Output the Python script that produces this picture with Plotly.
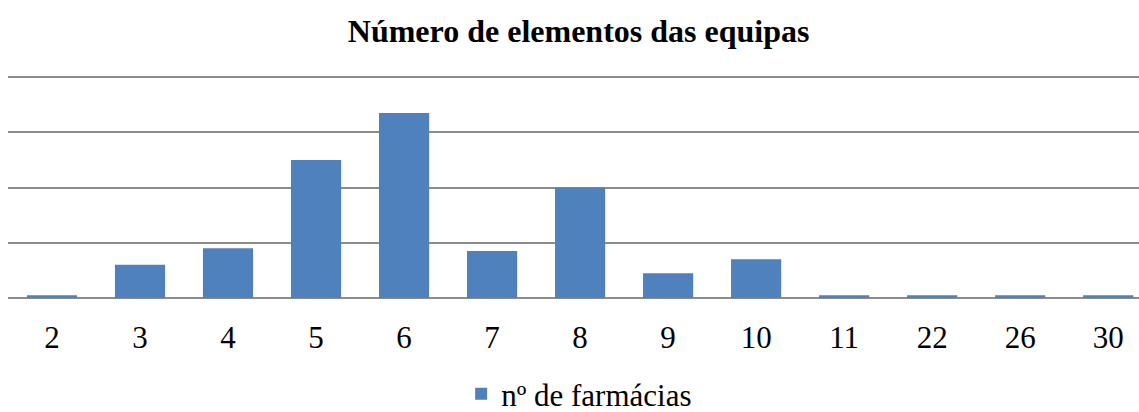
import plotly.graph_objects as go

categories = ["2", "3", "4", "5", "6", "7", "8", "9", "10", "11", "22", "26", "30"]
farmacias = [1, 12, 18, 50, 67, 17, 40, 9, 14, 1, 1, 1, 1]
y_ticks = [0, 20, 40, 60, 80]

SERIF = "Liberation Serif, Times New Roman, serif"

fig = go.Figure()
fig.add_trace(go.Bar(
    x=categories, y=farmacias, name="nº de farmácias",
    marker=dict(color="#4F81BD", line=dict(width=0)),
))

fig.update_layout(
    width=1139, height=412,
    margin=dict(l=8, r=0, t=73, b=114, autoexpand=False),
    paper_bgcolor="white", plot_bgcolor="white",
    bargap=0.43,
    title=dict(text="<b>Número de elementos das equipas</b>", x=0.508, xanchor="center",
               y=1 - 31/412, yanchor="middle", yref="container",
               font=dict(family=SERIF, size=32, color="black")),
    font=dict(family=SERIF, size=31, color="black"),
    showlegend=True,
    legend=dict(orientation="h", x=0.505, xanchor="center",
                y=1 - 394/412, yanchor="middle", yref="container",
                font=dict(family=SERIF, size=31, color="black"), itemwidth=30),
    xaxis=dict(type="category", range=[-0.5, 12.35], showgrid=False, showline=False,
               ticks="", ticklabelstandoff=18, tickfont=dict(family=SERIF, size=31),
               automargin=False),
    yaxis=dict(range=[0, 225 / (221 / 80)], tickvals=y_ticks, showticklabels=False, showgrid=True,
               gridcolor="#8C8C8C", gridwidth=1.5, zeroline=True, zerolinecolor="#8C8C8C",
               zerolinewidth=1.5, showline=False, automargin=False),
)

fig.write_html("out.html", config={"displayModeBar": False},
               post_script="document.body.style.margin='0';")
